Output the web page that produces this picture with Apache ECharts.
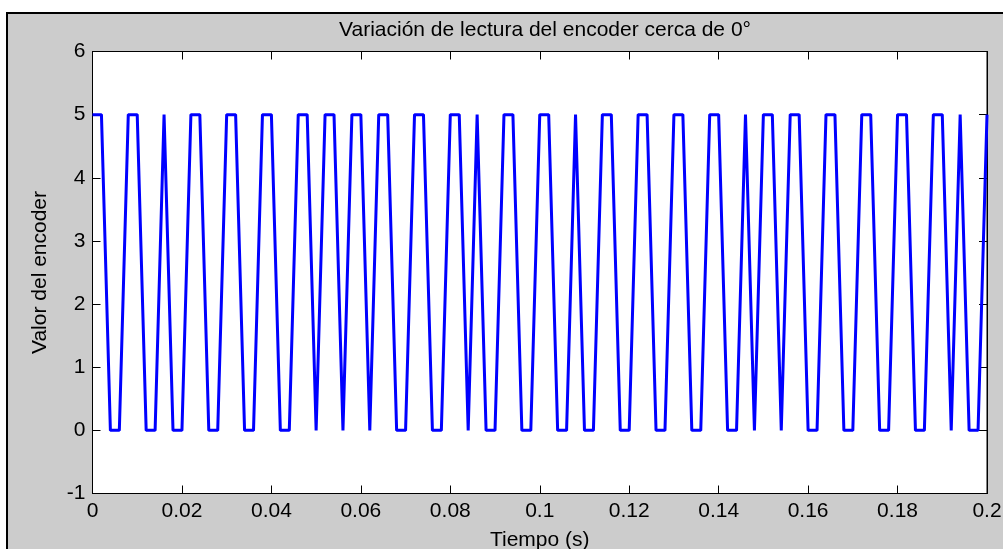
<!DOCTYPE html>
<html>
<head>
<meta charset="utf-8">
<script src="https://cdn.jsdelivr.net/npm/echarts@6/dist/echarts.min.js"></script>
<style>
  html, body { margin: 0; padding: 0; background: #ffffff; }
  #chart { width: 1003px; height: 549px; }
</style>
</head>
<body>
<div id="chart"></div>
<script>
// Lectura del encoder muestreada cada 2 ms
const tiempo = [
  0, 0.002, 0.004, 0.006, 0.008, 0.010, 0.012, 0.014, 0.016, 0.018,
  0.020, 0.022, 0.024, 0.026, 0.028, 0.030, 0.032, 0.034, 0.036, 0.038,
  0.040, 0.042, 0.044, 0.046, 0.048, 0.050, 0.052, 0.054, 0.056, 0.058,
  0.060, 0.062, 0.064, 0.066, 0.068, 0.070, 0.072, 0.074, 0.076, 0.078,
  0.080, 0.082, 0.084, 0.086, 0.088, 0.090, 0.092, 0.094, 0.096, 0.098,
  0.100, 0.102, 0.104, 0.106, 0.108, 0.110, 0.112, 0.114, 0.116, 0.118,
  0.120, 0.122, 0.124, 0.126, 0.128, 0.130, 0.132, 0.134, 0.136, 0.138,
  0.140, 0.142, 0.144, 0.146, 0.148, 0.150, 0.152, 0.154, 0.156, 0.158,
  0.160, 0.162, 0.164, 0.166, 0.168, 0.170, 0.172, 0.174, 0.176, 0.178,
  0.180, 0.182, 0.184, 0.186, 0.188, 0.190, 0.192, 0.194, 0.196, 0.198,
  0.200
];

const valorEncoder = [
  5, 5, 0, 0, 5, 5, 0, 0, 5, 0,
  0, 5, 5, 0, 0, 5, 5, 0, 0, 5,
  5, 0, 0, 5, 5, 0, 5, 5, 0, 5,
  5, 0, 5, 5, 0, 0, 5, 5, 0, 0,
  5, 5, 0, 5, 0, 0, 5, 5, 0, 0,
  5, 5, 0, 0, 5, 0, 0, 5, 5, 0,
  0, 5, 5, 0, 0, 5, 5, 0, 0, 5,
  5, 0, 0, 5, 0, 5, 5, 0, 5, 5,
  0, 0, 5, 5, 0, 0, 5, 5, 0, 0,
  5, 5, 0, 0, 5, 5, 0, 5, 0, 0,
  5
];

const ticksX = { min: 0, max: 0.2, interval: 0.02 };
const ticksY = { min: -1, max: 6, interval: 1 };

const titulo = 'Variación de lectura del encoder cerca de 0°';
const etiquetaX = 'Tiempo (s)';
const etiquetaY = 'Valor del encoder';

const fuente = "'Liberation Sans', Arial, Helvetica, sans-serif";
const tamFuente = 21;

const puntos = tiempo.map((t, i) => [t, valorEncoder[i]]);

function etiquetaTick(v) {
  return String(parseFloat(v.toFixed(4)));
}

const G = { left: 92.5, top: 51.5, right: 16, bottom: 55.5 };

const chart = echarts.init(document.getElementById('chart'), null, { renderer: 'canvas' });

const ejeComun = {
  axisLine: { show: true, onZero: false, lineStyle: { color: '#000', width: 1 } },
  axisTick: { show: true, inside: true, length: 8, lineStyle: { color: '#000', width: 1 } },
  splitLine: { show: false }
};

chart.setOption({
  animation: false,
  backgroundColor: '#cccccc',
  textStyle: { fontFamily: fuente },
  graphic: [
    { type: 'rect', silent: true, z: -1, shape: { x: 0, y: 0, width: 1003, height: 12 }, style: { fill: '#ffffff' } },
    { type: 'rect', silent: true, z: -1, shape: { x: 0, y: 0, width: 6, height: 549 }, style: { fill: '#ffffff' } },
    { type: 'polyline', silent: true, z: 0, shape: { points: [[7, 549], [7, 13], [1003, 13]] }, style: { stroke: '#000', lineWidth: 2, fill: null } }
  ],
  title: {
    text: titulo,
    left: 540,
    top: 15,
    textAlign: 'center',
    textStyle: { fontFamily: fuente, fontSize: tamFuente, fontWeight: 'normal', color: '#000' }
  },
  grid: {
    left: G.left, top: G.top, right: G.right, bottom: G.bottom,
    containLabel: false,
    outerBoundsMode: 'none',
    show: true, backgroundColor: '#ffffff', borderColor: '#000', borderWidth: 1
  },
  xAxis: [
    Object.assign({}, ejeComun, {
      type: 'value', position: 'bottom',
      min: ticksX.min, max: ticksX.max, interval: ticksX.interval,
      name: etiquetaX, nameLocation: 'middle', nameGap: 36,
      nameTextStyle: { fontFamily: fuente, fontSize: tamFuente, color: '#000' },
      axisLabel: { show: true, margin: 7, color: '#000', fontSize: tamFuente, fontFamily: fuente, formatter: etiquetaTick }
    }),
    Object.assign({}, ejeComun, {
      type: 'value', position: 'top',
      min: ticksX.min, max: ticksX.max, interval: ticksX.interval,
      axisLabel: { show: false }
    })
  ],
  yAxis: [
    Object.assign({}, ejeComun, {
      type: 'value', position: 'left',
      min: ticksY.min, max: ticksY.max, interval: ticksY.interval,
      name: etiquetaY, nameLocation: 'middle', nameGap: 42, nameRotate: 90,
      nameTextStyle: { fontFamily: fuente, fontSize: tamFuente, color: '#000' },
      axisLabel: { show: true, margin: 7, color: '#000', fontSize: tamFuente, fontFamily: fuente }
    }),
    Object.assign({}, ejeComun, {
      type: 'value', position: 'right',
      min: ticksY.min, max: ticksY.max, interval: ticksY.interval,
      axisLabel: { show: false }
    })
  ],
  series: [{
    type: 'line',
    data: puntos,
    xAxisIndex: 0,
    yAxisIndex: 0,
    showSymbol: false,
    symbol: 'none',
    lineStyle: { color: '#0000ff', width: 3 },
    clip: true
  }]
});
</script>
</body>
</html>
